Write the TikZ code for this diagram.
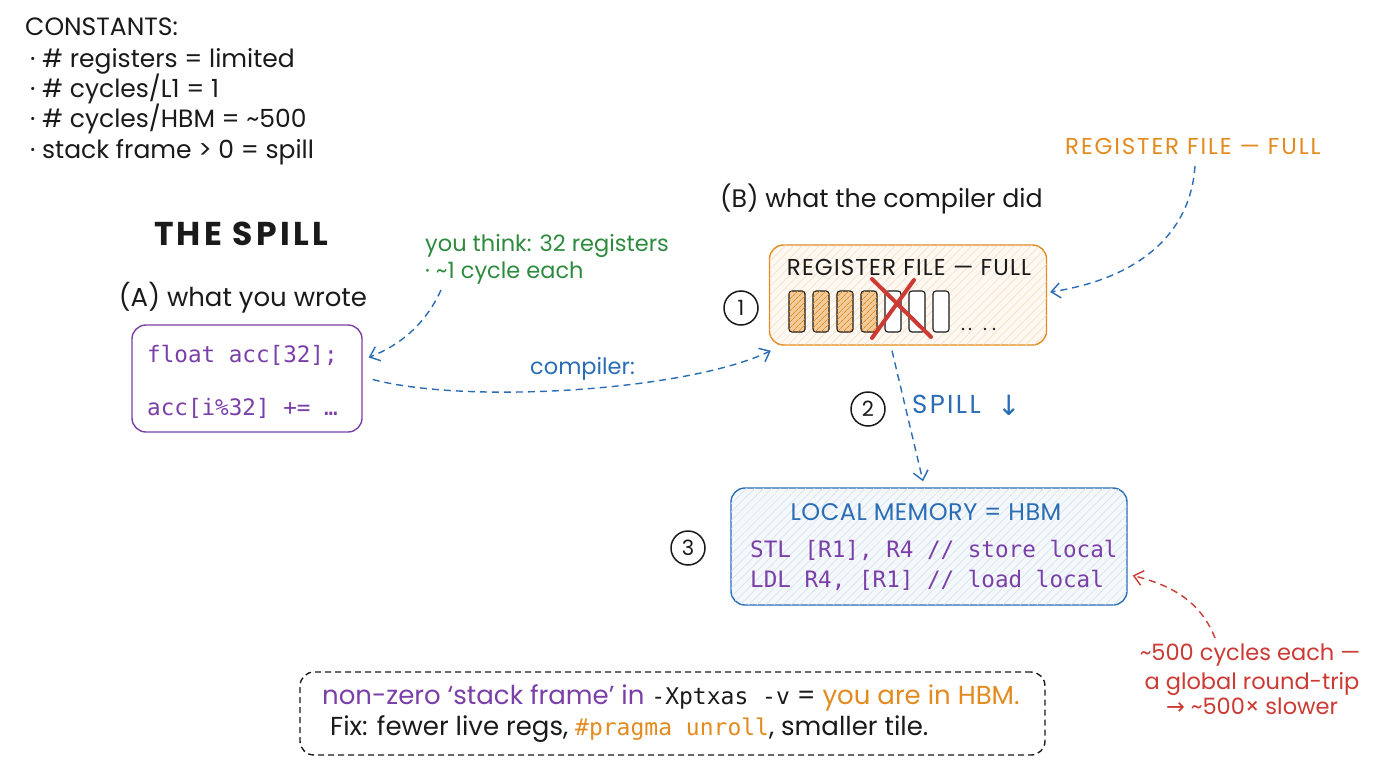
\documentclass[tikz,border=0pt]{standalone}
\usepackage{fontspec}
\setmainfont{Poppins}
\setmonofont{DejaVu Sans Mono}
\newfontfamily\symfont{DejaVu Sans}
\usetikzlibrary{arrows.meta,patterns.meta}
\definecolor{cpurple}{HTML}{7B3FA8}
\definecolor{cgreen}{HTML}{2E8B3E}
\definecolor{cblue}{HTML}{2A6DB5}
\definecolor{corange}{HTML}{E38B1F}
\definecolor{cred}{HTML}{CC3A33}
\definecolor{cink}{HTML}{1A1A1A}
\newcommand{\bmono}[1]{{\ttfamily\fontsize{23}{26}\selectfont #1}}
\begin{document}
\begin{tikzpicture}[x=1pt,y=-1pt,
 hand/.style={font=\fontsize{25}{29}\selectfont, text=cink, inner sep=0pt},
 handsm/.style={font=\fontsize{22.5}{27}\selectfont, inner sep=0pt},
 mono/.style={font=\ttfamily\fontsize{22.6}{26}\selectfont, inner sep=0pt},
 numc/.style={circle, draw=cink, line width=1.5pt, minimum size=34pt, inner sep=0pt, font=\fontsize{21}{22}\selectfont, text=cink},
 dasharrow/.style={dash pattern=on 7pt off 5pt, line width=1.4pt, -{Straight Barb[length=9pt,width=15pt,line width=1.4pt]}},
 boxbase/.style={rounded corners=14pt, line width=1.4pt, inner sep=0pt},
 cellfull/.style={draw=cink, line width=1.1pt, rounded corners=3pt, fill=corange!45, postaction={pattern={Lines[angle=45,distance=4pt,line width=0.7pt]}, pattern color=corange}},
 cellempty/.style={draw=cink, line width=1.1pt, rounded corners=3pt, fill=white},
]
\useasboundingbox[fill=white] (0,0) rectangle (1376,768);

% constants
\node[hand, anchor=base west] (k0) at (25,36) {CONSTANTS:};
\node[hand, anchor=base west] (k1) at (30,67) {· \# registers = limited};
\node[hand, anchor=base west] (k2) at (30,97) {· \# cycles/L1 = 1};
\node[hand, anchor=base west] (k3) at (30,127) {· \# cycles/HBM = \textasciitilde500};
\node[hand, anchor=base west] (k4) at (30,158) {· stack frame > 0 = spill};

% titles
\node[inner sep=0pt, anchor=base, font=\fontsize{33}{36}\selectfont\bfseries\addfontfeatures{LetterSpace=10}, text=cink] (title) at (241,245) {THE SPILL};
\node[hand, anchor=base, font=\fontsize{26}{30}\selectfont] (la) at (243,306) {(A) what you wrote};
\node[hand, anchor=base west, font=\fontsize{25.3}{29}\selectfont] (lb) at (720,207) {(B) what the compiler did};

% box A
\node[boxbase, draw=cpurple, minimum width=230pt, minimum height=107pt] (A) at (247,378.5) {};
\node[mono, text=cpurple, anchor=base west] (a1) at (147,362) {float acc[32];};
\node[mono, text=cpurple, anchor=base west] (a2) at (147,415) {acc[i\%32] += …};

% you think
\node[handsm, text=cgreen, anchor=base west] (t1) at (425,251) {you think: 32 registers};
\node[handsm, text=cgreen, anchor=base west] (t2) at (425,278) {· \textasciitilde1 cycle each};
\coordinate (t0) at (441,290);
\draw[cblue, dasharrow] (t0) .. controls (425,325) and (400,345) .. ([xshift=6pt,yshift=21pt]A.east);

% register box
\node[boxbase, draw=corange, fill=corange!6, postaction={pattern={Lines[angle=45,distance=6pt,line width=0.5pt]}, pattern color=corange!30}, minimum width=277pt, minimum height=100pt] (R) at (908,295) {};
\node[hand, anchor=base, font=\fontsize{23}{26}\selectfont\addfontfeatures{LetterSpace=5}] (rt) at (909,275) {REGISTER FILE — FULL};
\foreach \i in {0,1,2,3}{
  \node[cellfull, minimum width=16pt, minimum height=41pt, inner sep=0pt] (cell\i) at (797+24*\i,311.5) {};
}
\foreach \i in {4,5,6}{
  \node[cellempty, minimum width=16pt, minimum height=41pt, inner sep=0pt] (cell\i) at (797+24*\i,311.5) {};
}
\foreach \x in {963,970,985,994}{
  \fill[cink] (\x,329) circle (1.3pt);
}
\coordinate (x1) at (872,279);
\coordinate (x2) at (931,337);
\coordinate (x3) at (914,280);
\coordinate (x4) at (872,338);
\draw[cred, line width=4pt, line cap=round] (x1) -- (x2);
\draw[cred, line width=4pt, line cap=round] (x3) -- (x4);

\node[numc] (n1) at (741,308) {1};

% register file label
\node[handsm, text=corange, anchor=base west, font=\fontsize{23}{26}\selectfont\addfontfeatures{LetterSpace=8}] (rl) at (1065,154) {REGISTER FILE — FULL};
\draw[cblue, dasharrow] (1195,166) .. controls (1190,240) and (1130,280) .. ([xshift=3pt,yshift=3pt]R.east);

% compiler arrow
\draw[cblue, dasharrow] ([xshift=10pt,yshift=-1pt]A.east) .. controls (470,405) and (690,390) .. ([xshift=2pt,yshift=-5pt]R.south west);
\node[hand, text=cblue, anchor=base west, font=\fontsize{22.5}{26}\selectfont] (comp) at (530,374) {compiler:};

% local memory box
\node[boxbase, draw=cblue, fill=cblue!5, postaction={pattern={Lines[angle=45,distance=6pt,line width=0.5pt]}, pattern color=cblue!22}, minimum width=396pt, minimum height=117pt] (L) at (929,546.5) {};
\node[hand, text=cblue, anchor=base, font=\fontsize{24}{28}\selectfont\addfontfeatures{LetterSpace=2}] (lt) at (926,520) {LOCAL MEMORY = HBM};
\node[mono, text=cpurple, anchor=base west] (l1) at (750,557) {STL [R1], R4 // store local};
\node[mono, text=cpurple, anchor=base west] (l2) at (750,587) {LDL R4, [R1] // load local};

% spill arrow
\draw[cblue, dasharrow] ([xshift=-16pt,yshift=-5pt]R.south) -- ([xshift=-6pt,yshift=6pt]L.north);
\node[numc] (n2) at (868,409) {2};
\node[hand, text=cblue, anchor=base west, font=\fontsize{26}{28}\selectfont\addfontfeatures{LetterSpace=9}] (sp) at (912,413) {SPILL};
\node[text=cblue, anchor=base west, inner sep=0pt, font=\symfont\fontsize{28}{30}\selectfont] (spa) at (997,415) {↓};
\node[numc] (n3) at (688,548) {3};

% red note
\node[handsm, text=cred, anchor=base] (r1) at (1250,660) {\textasciitilde500 cycles each —};
\node[handsm, text=cred, anchor=base] (r2) at (1252,689) {a global round-trip};
\node[handsm, text=cred, anchor=base] (r3) at (1252,714) {{\symfont →} \textasciitilde500× slower};
\draw[cred, dasharrow] (1215,638) .. controls (1200,600) and (1170,585) .. ([xshift=5pt,yshift=-29pt]L.east);

% bottom box
\node[boxbase, draw=cink, dashed, dash pattern=on 6pt off 4pt, minimum width=745pt, minimum height=83pt] (bot) at (672.5,713.5) {};
\node[hand, anchor=base west, font=\fontsize{26}{30}\selectfont] (b1) at (322,704) {\textcolor{cpurple}{non-zero ‘stack frame’ in} \bmono{-Xptxas -v} = \textcolor{corange}{you are in HBM.}};
\node[hand, anchor=base west, font=\fontsize{26}{30}\selectfont] (b2) at (330,735) {Fix: fewer live regs, \textcolor{corange}{\bmono{\#pragma unroll}}, smaller tile.};
\end{tikzpicture}
\end{document}
